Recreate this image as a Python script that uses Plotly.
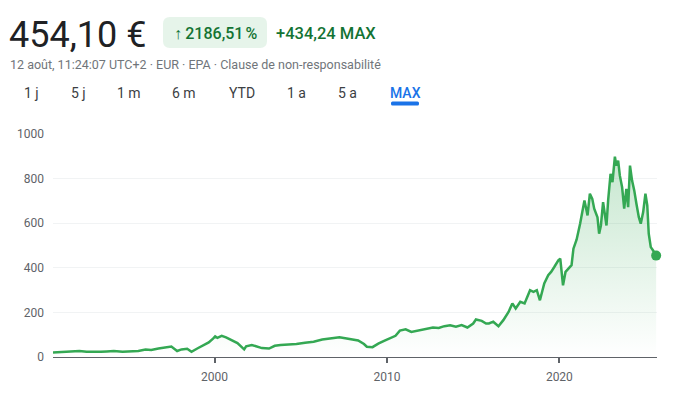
import plotly.graph_objects as go

# ---------------- data ----------------
dates = [
    "1990-08-20", "1990-11-01", "1991-03-01", "1991-07-01", "1991-11-01", "1992-03-01",
    "1992-08-01", "1993-01-01", "1993-06-01", "1993-10-01", "1994-03-01", "1994-09-01",
    "1995-02-01", "1995-08-01", "1996-01-01", "1996-05-01", "1996-10-01", "1997-03-01",
    "1997-07-01", "1997-11-01", "1998-02-01", "1998-06-01", "1998-09-01", "1999-01-01",
    "1999-05-01", "1999-09-01", "1999-12-01", "2000-01-15", "2000-03-01", "2000-06-01",
    "2000-09-01", "2001-01-01", "2001-05-01", "2001-09-20", "2001-11-01", "2002-03-01",
    "2002-07-01", "2002-10-01", "2003-03-01", "2003-07-01", "2003-11-01", "2004-05-01",
    "2004-10-01", "2005-04-01", "2005-10-01", "2006-04-01", "2006-10-01", "2007-04-01",
    "2007-08-01", "2007-12-01", "2008-05-01", "2008-09-01", "2008-11-01", "2009-03-01",
    "2009-07-01", "2009-11-01", "2010-03-01", "2010-07-01", "2010-10-01", "2011-02-01",
    "2011-06-01", "2011-09-01", "2012-01-01", "2012-05-01", "2012-09-01", "2013-01-01",
    "2013-05-01", "2013-09-01", "2014-01-01", "2014-05-01", "2014-09-01", "2015-01-01",
    "2015-03-01", "2015-07-01", "2015-10-01", "2015-12-01", "2016-03-01", "2016-06-20",
    "2016-10-01", "2017-01-20", "2017-04-10", "2017-06-20", "2017-09-25", "2017-12-25",
    "2018-04-20", "2018-07-01", "2018-09-10", "2018-11-15", "2019-02-15", "2019-05-10",
    "2019-07-10", "2019-09-15", "2019-12-10", "2020-01-20", "2020-03-18", "2020-05-10",
    "2020-07-10", "2020-09-15", "2020-10-25", "2021-01-01", "2021-03-15", "2021-05-01",
    "2021-06-15", "2021-07-15", "2021-08-20", "2021-10-08", "2021-11-28", "2022-01-08",
    "2022-02-15", "2022-03-18", "2022-04-22", "2022-05-30", "2022-07-15", "2022-08-22",
    "2022-09-25", "2022-10-30", "2022-12-20", "2023-01-30", "2023-03-22", "2023-04-22",
    "2023-05-30", "2023-07-05", "2023-08-22", "2023-10-05", "2023-11-20", "2023-12-28",
    "2024-02-05", "2024-03-20", "2024-05-05", "2024-06-20", "2024-08-10", "2024-09-20",
    "2024-11-10", "2024-12-28", "2025-02-05", "2025-03-08", "2025-04-20", "2025-06-05",
    "2025-08-12",
]
prices = [
    19.86, 21, 22, 25, 24, 27,
    24, 22, 23, 25, 27, 24,
    25, 27, 34, 31, 38, 43,
    47, 27, 34, 37, 23, 38,
    52, 65, 82, 92, 86, 95,
    88, 75, 62, 34, 48, 54,
    45, 40, 38, 50, 54, 56,
    58, 64, 68, 78, 82, 88,
    84, 80, 74, 58, 46, 44,
    60, 72, 82, 95, 118, 124,
    112, 116, 120, 126, 132, 130,
    138, 142, 136, 143, 132, 150,
    168, 162, 150, 150, 158, 138,
    165, 202, 240, 217, 247, 240,
    299, 292, 299, 254, 329, 366,
    381, 403, 433, 440, 321, 381,
    396, 411, 485, 526, 597, 649,
    701, 671, 634, 731, 708, 664,
    641, 626, 552, 589, 693, 634,
    589, 701, 820, 783, 897, 857,
    879, 812, 760, 664, 753, 671,
    857, 790, 746, 686, 626, 597,
    649, 731, 679, 552, 492, 478,
    454.10,
]
y_ticks = [0, 200, 400, 600, 800, 1000]
x_tick_vals = ["2000-01-01", "2010-01-01", "2020-01-01"]
x_tick_text = ["2000", "2010", "2020"]
tabs = ["1 j", "5 j", "1 m", "6 m", "YTD", "1 a", "5 a", "MAX"]

# ---------------- layout geometry ----------------
# the page body has an 8px margin, so the figure is offset by (8, 8)
OFF = 8
W, H = 658, 378
L, T = 53 - OFF, 133 - OFF
R = W - (657 - OFF)
B = H - (357 - OFF)
PW, PH = W - L - R, H - T - B


def px(x):  # reference-page x -> paper
    return (x - OFF - L) / PW


def py(y):  # reference-page y -> paper
    return (H - B - (y - OFF)) / PH


GREEN = "#34a853"
DARK_GREEN = "#137333"

fig = go.Figure()
fig.add_trace(go.Scatter(
    x=dates, y=prices, mode="lines",
    line=dict(color=GREEN, width=2.5),
    fill="tozeroy",
    fillgradient=dict(type="vertical",
                      colorscale=[[0, "rgba(52,168,83,0.0)"], [1, "rgba(52,168,83,0.28)"]]),
    hoverinfo="skip", showlegend=False,
))
fig.add_trace(go.Scatter(
    x=[dates[-1]], y=[prices[-1]], mode="markers",
    marker=dict(color=GREEN, size=10),
    hoverinfo="skip", showlegend=False, cliponaxis=False,
))

annotations = []
annotations.append(dict(x=px(7), y=py(35), xref="paper", yref="paper", xanchor="left",
                        yanchor="middle", text="454,10 €", showarrow=False,
                        font=dict(family="Roboto", size=36, color="#202124")))
annotations.append(dict(x=px(215), y=py(33), xref="paper", yref="paper", xanchor="center",
                        yanchor="middle", text="↑\u20092186,51\u202f%", showarrow=False,
                        font=dict(family="Roboto", size=16, color=DARK_GREEN, weight=500)))
annotations.append(dict(x=px(274), y=py(33), xref="paper", yref="paper", xanchor="left",
                        yanchor="middle", text="+434,24 MAX", showarrow=False,
                        font=dict(family="Roboto", size=16.5, color=DARK_GREEN, weight=500)))
annotations.append(dict(x=px(8), y=py(64), xref="paper", yref="paper", xanchor="left",
                        yanchor="middle",
                        text="12 août, 11:24:07 UTC+2 · EUR · EPA · Clause de non-responsabilité",
                        showarrow=False, font=dict(family="Roboto", size=12.5, color="#70757a")))
tab_x = [31.5, 78.5, 129, 184, 242, 296, 347, 405]
for t, xx in zip(tabs, tab_x):
    col = "#1a73e8" if t == "MAX" else "#3c4043"
    annotations.append(dict(x=px(xx), y=py(93.5), xref="paper", yref="paper", xanchor="center",
                            yanchor="middle", text=t, showarrow=False,
                            font=dict(family="Roboto", size=14, color=col,
                                      weight=500 if t == "MAX" else 400)))


def rr_path(x0, x1, y0, y1, r):
    pts = [
        f"M {px(x0 + r)} {py(y0)}",
        f"L {px(x1 - r)} {py(y0)}",
        f"Q {px(x1)} {py(y0)} {px(x1)} {py(y0 + r)}",
        f"L {px(x1)} {py(y1 - r)}",
        f"Q {px(x1)} {py(y1)} {px(x1 - r)} {py(y1)}",
        f"L {px(x0 + r)} {py(y1)}",
        f"Q {px(x0)} {py(y1)} {px(x0)} {py(y1 - r)}",
        f"L {px(x0)} {py(y0 + r)}",
        f"Q {px(x0)} {py(y0)} {px(x0 + r)} {py(y0)}",
        "Z",
    ]
    return " ".join(pts)


shapes = [
    dict(type="path", xref="paper", yref="paper", path=rr_path(163, 267, 17, 48, 7),
         fillcolor="#e6f4ea", line=dict(width=0), layer="below"),
    dict(type="path", xref="paper", yref="paper", path=rr_path(391, 419, 101.5, 105.5, 1.5),
         fillcolor="#1a73e8", line=dict(width=0)),
]

fig.update_layout(
    width=W, height=H,
    margin=dict(l=L, r=R, t=T, b=B, pad=0, autoexpand=False),
    paper_bgcolor="white", plot_bgcolor="white",
    font=dict(family="Roboto", size=12, color="#5f6368"),
    annotations=annotations, shapes=shapes,
    xaxis=dict(
        range=["1990-08-20", "2025-08-30"],
        tickvals=x_tick_vals, ticktext=x_tick_text,
        ticks="outside", ticklen=5, tickwidth=2, tickcolor="#5f6368",
        showline=True, linecolor="#5f6368", linewidth=1,
        showgrid=False, zeroline=False, automargin=False,
        tickfont=dict(family="Roboto", size=12, color="#5f6368"),
        ticklabelstandoff=4,
    ),
    yaxis=dict(
        range=[0, 1003], tickvals=y_ticks,
        showgrid=True, gridcolor="#f1f3f4", gridwidth=1,
        zeroline=False, showline=False, ticks="", automargin=False,
        tickfont=dict(family="Roboto", size=12, color="#5f6368"),
        ticklabelstandoff=8,
    ),
    showlegend=False,
)

fig.write_html("out.html")
